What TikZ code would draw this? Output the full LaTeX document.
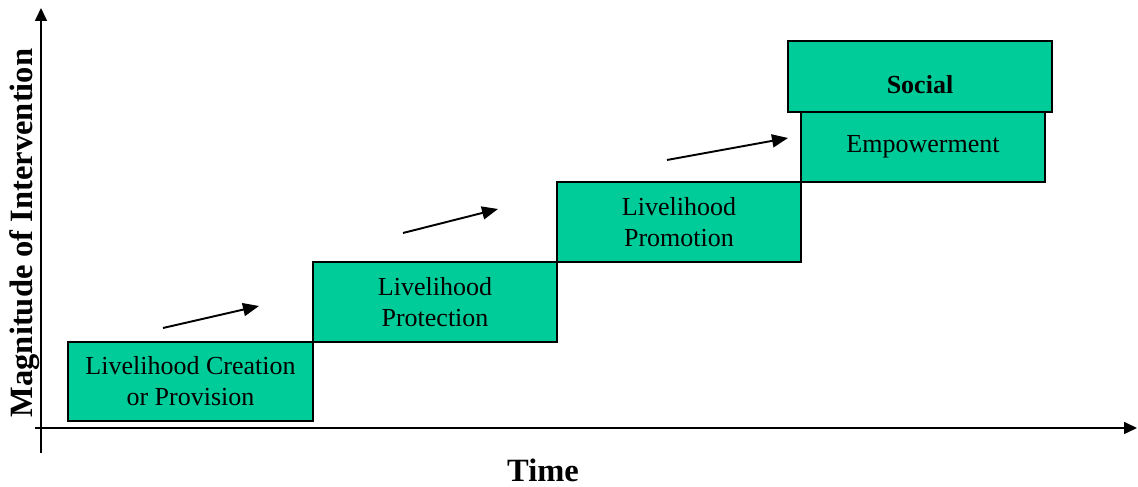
\documentclass[tikz,border=0pt]{standalone}
\usepackage{fontspec}
\setmainfont{Liberation Serif}
\usetikzlibrary{arrows.meta, positioning}

\definecolor{stepgreen}{RGB}{0,204,153}

\begin{document}
\begin{tikzpicture}[
  stepbox/.style={draw, fill=stepgreen, line width=0.6pt, outer sep=0pt, inner sep=0pt,
    minimum width=4.88cm, minimum height=1.6cm, align=center,
    font=\fontsize{14.8}{17.6}\selectfont},
  trend/.style={-{Triangle[length=0.32cm, width=0.26cm]}, line width=1.1pt},
  axis/.style={-{Triangle[length=0.26cm, width=0.24cm]}, line width=0.9pt},
  axislabel/.style={font=\fontsize{18.5}{21}\selectfont\bfseries}
]
  \useasboundingbox (0,0) rectangle (22.76,9.74);

  % Axes
  \coordinate (ybot) at (0.82,0.68);
  \coordinate (ytop) at (0.82,9.58);
  \coordinate (xleft) at (0.70,1.18);
  \coordinate (xright) at (22.74,1.18);
  \draw[axis] (ybot) -- (ytop);
  \draw[axis] (xleft) -- (xright);
  \node[axislabel, rotate=90] (ylab) at (0.49,5.08) {Magnitude of Intervention};
  \node[axislabel] (xlab) at (10.86,0.34) {Time};

  % Steps
  \node[stepbox, anchor=south west, minimum width=4.90cm, minimum height=1.58cm]
    (creation) at (1.36,1.32) {Livelihood Creation\\or Provision};
  \node[stepbox, above right=0cm and 0cm of creation] (protection) {Livelihood\\Protection};
  \node[stepbox, above right=0cm and 0cm of protection] (promotion) {Livelihood\\Promotion};
  \node[stepbox, above right=0cm and 0cm of promotion, minimum height=1.4cm] (empower) {Empowerment};
  \node[stepbox, above=0cm of empower, xshift=-0.06cm, minimum width=5.28cm,
    minimum height=1.42cm, line width=1.2pt, text height=0.68cm, text depth=0pt,
    font=\fontsize{14.8}{17.6}\selectfont\bfseries] (social) {Social};

  % Trend arrows
  \coordinate (t1s) at (3.26,3.18);
  \coordinate (t1e) at (5.18,3.62);
  \coordinate (t2s) at (8.06,5.08);
  \coordinate (t2e) at (9.96,5.56);
  \coordinate (t3s) at (13.34,6.54);
  \coordinate (t3e) at (15.76,6.98);
  \draw[trend] (t1s) -- (t1e);
  \draw[trend] (t2s) -- (t2e);
  \draw[trend] (t3s) -- (t3e);
\end{tikzpicture}
\end{document}
